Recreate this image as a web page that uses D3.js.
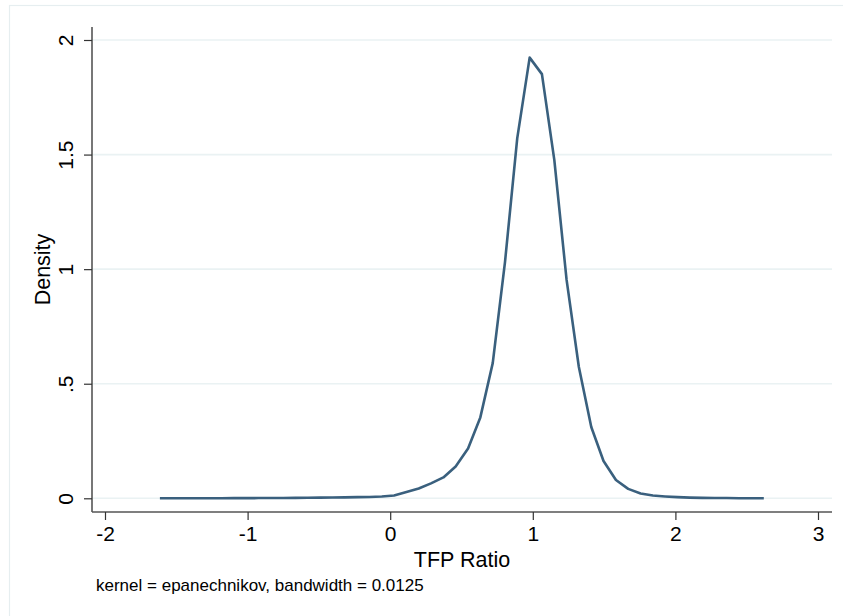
<!DOCTYPE html>
<html>
<head>
<meta charset="utf-8">
<script src="https://cdn.jsdelivr.net/npm/d3@7"></script>
<style>
  body { margin: 0; background: #fff; }
  text { font-family: "Liberation Sans", Arial, Helvetica, sans-serif; fill: #000; }
</style>
</head>
<body>
<div id="chart"></div>
<script>
// kernel density estimate, 50 evaluation points
const tfpRatio = [-1.615, -1.529, -1.442, -1.356, -1.269, -1.183, -1.096, -1.010, -0.924, -0.837,
  -0.751, -0.664, -0.578, -0.491, -0.405, -0.319, -0.232, -0.146, -0.059, 0.027,
  0.114, 0.200, 0.286, 0.373, 0.459, 0.546, 0.632, 0.719, 0.805, 0.891,
  0.978, 1.064, 1.151, 1.237, 1.323, 1.410, 1.496, 1.583, 1.669, 1.756,
  1.842, 1.928, 2.015, 2.101, 2.188, 2.274, 2.361, 2.447, 2.534, 2.620];
const density = [0.0002, 0.0002, 0.0003, 0.0003, 0.0004, 0.0005, 0.0006, 0.0008, 0.001, 0.0013,
  0.0016, 0.002, 0.0025, 0.003, 0.0035, 0.004, 0.005, 0.006, 0.008, 0.012,
  0.027, 0.043, 0.065, 0.091, 0.139, 0.217, 0.353, 0.590, 1.031, 1.572,
  1.923, 1.851, 1.476, 0.953, 0.573, 0.311, 0.163, 0.080, 0.041, 0.021,
  0.012, 0.008, 0.005, 0.003, 0.002, 0.001, 0.001, 0.0005, 0.0003, 0.0002];
const xTicks = [-2, -1, 0, 1, 2, 3];
const yTicks = [0, 0.5, 1, 1.5, 2];
const yTickLabels = ["0", ".5", "1", "1.5", "2"];

const width = 843;
const height = 616;
const plot = { left: 92, right: 832, top: 27, bottom: 512 };

const svg = d3.select("#chart")
  .append("svg")
  .attr("width", width)
  .attr("height", height);

// outer frame
svg.append("rect")
  .attr("x", 9.5)
  .attr("y", 5.5)
  .attr("width", width)
  .attr("height", height)
  .attr("fill", "none")
  .attr("stroke", "#e6eef0")
  .attr("stroke-width", 1.2);

const x = d3.scaleLinear().domain([-2, 3]).range([105, 818]);
const y = d3.scaleLinear().domain([0, 2]).range([498.3, 40]);

// gridlines
svg.append("g")
  .selectAll("line")
  .data(yTicks)
  .enter()
  .append("line")
  .attr("x1", plot.left)
  .attr("x2", plot.right)
  .attr("y1", d => y(d))
  .attr("y2", d => y(d))
  .attr("stroke", "#eaf2f3")
  .attr("stroke-width", 1.6);

// density curve
const line = d3.line()
  .x((d, i) => x(tfpRatio[i]))
  .y(d => y(d));

svg.append("path")
  .datum(density)
  .attr("d", line)
  .attr("fill", "none")
  .attr("stroke", "#3a607e")
  .attr("stroke-width", 2.6)
  .attr("stroke-linejoin", "round");

// x axis
const xAxis = svg.append("g")
  .attr("transform", `translate(0, ${plot.bottom})`)
  .call(d3.axisBottom(x).tickValues(xTicks).tickFormat(d => d).tickSize(8).tickPadding(6));
xAxis.select(".domain").attr("d", `M${plot.left},0H${plot.right}`)
  .attr("stroke", "#555").attr("stroke-width", 1.6);
xAxis.selectAll(".tick line").attr("stroke", "#333").attr("stroke-width", 1.2);
xAxis.selectAll(".tick text")
  .attr("y", 29)
  .attr("dy", 0)
  .style("font-size", "21px")
  .style("font-family", "Liberation Sans, Arial, sans-serif")
  .attr("fill", "#000");

// y axis
const yAxis = svg.append("g")
  .attr("transform", `translate(${plot.left}, 0)`)
  .call(d3.axisLeft(y).tickValues(yTicks).tickFormat((d, i) => yTickLabels[i]).tickSize(8).tickPadding(0));
yAxis.select(".domain").attr("d", `M0,${plot.top}V${plot.bottom}`)
  .attr("stroke", "#555").attr("stroke-width", 1.6);
yAxis.selectAll(".tick line").attr("stroke", "#333").attr("stroke-width", 1.2);
yAxis.selectAll(".tick text")
  .attr("x", -19)
  .attr("dy", 0)
  .attr("transform", "rotate(-90, -19, 0)")
  .attr("text-anchor", "middle")
  .style("font-size", "21px")
  .style("font-family", "Liberation Sans, Arial, sans-serif")
  .attr("fill", "#000");

// axis titles
svg.append("text")
  .attr("x", (plot.left + plot.right) / 2)
  .attr("y", 567)
  .attr("text-anchor", "middle")
  .style("font-size", "21.5px")
  .text("TFP Ratio");

svg.append("text")
  .attr("transform", `translate(50, ${(plot.top + plot.bottom) / 2}) rotate(-90)`)
  .attr("text-anchor", "middle")
  .style("font-size", "21.5px")
  .text("Density");

// note
svg.append("text")
  .attr("x", 96)
  .attr("y", 591)
  .style("font-size", "17px")
  .text("kernel = epanechnikov, bandwidth = 0.0125");
</script>
</body>
</html>
